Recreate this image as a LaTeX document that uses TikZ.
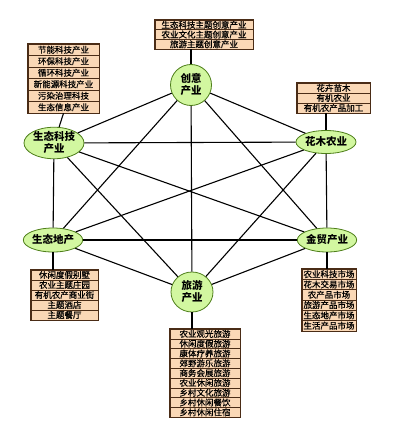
\documentclass[tikz,border=0pt]{standalone}
\usepackage{fontspec}
\setmainfont{Noto Sans CJK SC}
\newfontfamily\listfont[FakeBold=0.6]{Noto Sans CJK SC}
\usetikzlibrary{shapes.geometric}
\definecolor{boxfill}{HTML}{FAD8B6}
\definecolor{boxline}{HTML}{4A2C16}
\definecolor{hubfill}{HTML}{D2F7A0}
\definecolor{hubline}{HTML}{4E7F1A}
\tikzset{
  hub/.style={ellipse, draw=hubline, fill=hubfill, line width=0.8pt, inner sep=0pt,
    align=center, font=\fontsize{10.5}{12}\selectfont\bfseries},
  rowbox/.style={rectangle, draw=boxline, fill=boxfill, line width=0.5pt, inner sep=0pt,
    font=\fontsize{8.5}{9}\selectfont\listfont},
  outline/.style={draw=boxline, line width=0.9pt},
  link/.style={line width=1.1pt}
}
\begin{document}
\begin{tikzpicture}[x=1pt,y=-1pt]
        \useasboundingbox[fill=white] (0,0) rectangle (406,433);
        % industries
        \node[hub, minimum width=41pt, minimum height=41pt] (cy) at (191,85) {创意\\产业};
        \node[hub, minimum width=60pt, minimum height=29pt] (kj) at (54,143) {生态科技\\产业};
        \node[hub, minimum width=60pt, minimum height=23pt] (hm) at (326,142) {花木农业};
        \node[hub, minimum width=58pt, minimum height=24pt] (dc) at (53,240) {生态地产};
        \node[hub, minimum width=58pt, minimum height=24pt] (jm) at (327,240) {金贸产业};
        \node[hub, minimum width=42pt, minimum height=40pt] (ly) at (192,292) {旅游\\产业};
        \foreach \a/\b in {cy/kj,cy/hm,cy/dc,cy/jm,cy/ly,kj/hm,kj/dc,kj/jm,kj/ly,
                           hm/dc,hm/jm,hm/ly,dc/jm,dc/ly,jm/ly}
          \draw[link] (\a) -- (\b);
        % lists
        \foreach \t [count=\i] in {生态科技主题创意产业,农业文化主题创意产业,旅游主题创意产业}
          \node[rowbox, minimum width=98pt, minimum height=9.7pt] (cyl\i) at (204,15.15+9.7*\i) {\t};
        \draw[outline] (cyl1.north west) rectangle (cyl3.south east);
        \foreach \t [count=\i] in {节能科技产业,环保科技产业,循环科技产业,新能源科技产业,污染治理科技,生态信息产业}
          \node[rowbox, minimum width=71pt, minimum height=11.5pt] (kjl\i) at (63.5,38.25+11.5*\i) {\t};
        \draw[outline] (kjl1.north west) rectangle (kjl6.south east);
        \foreach \t [count=\i] in {花卉苗木,有机农业,有机农产品加工}
          \node[rowbox, minimum width=73pt, minimum height=10pt] (hml\i) at (333.5,78+10*\i) {\t};
        \draw[outline] (hml1.north west) rectangle (hml3.south east);
        \foreach \t [count=\i] in {休闲度假别墅,农业主题庄园,有机农产商业街,主题酒店,主题餐厅}
          \node[rowbox, minimum width=67pt, minimum height=10pt] (dcl\i) at (64.5,265+10*\i) {\t};
        \draw[outline] (dcl1.north west) rectangle (dcl5.south east);
        \foreach \t [count=\i] in {农业科技市场,花木交易市场,农产品市场,旅游产品市场,生态地产市场,生活产品市场}
          \node[rowbox, minimum width=54pt, minimum height=10.3pt] (jml\i) at (329,263.85+10.3*\i) {\t};
        \draw[outline] (jml1.north west) rectangle (jml6.south east);
        \foreach \t [count=\i] in {农业观光旅游,休闲度假旅游,康体疗养旅游,郊野游乐旅游,商务会展旅游,农业休闲旅游,乡村文化旅游,乡村休闲餐饮,乡村休闲住宿}
          \node[rowbox, minimum width=70pt, minimum height=9.8pt] (lyl\i) at (205,324.1+9.8*\i) {\t};
        \draw[outline] (lyl1.north west) rectangle (lyl9.south east);
        % list to industry
        \draw[link] (cy) -- (cy |- cyl3.south);
        \draw[link] (kj) -- (kjl6.south);
        \draw[link] (hm) -- (hm |- hml3.south);
        \draw[link] (dc) -- (dc |- dcl1.north);
        \draw[link] (jm) -- (jm |- jml1.north);
        \draw[link] (ly) -- (ly |- lyl1.north);
    \end{tikzpicture}
\end{document}
